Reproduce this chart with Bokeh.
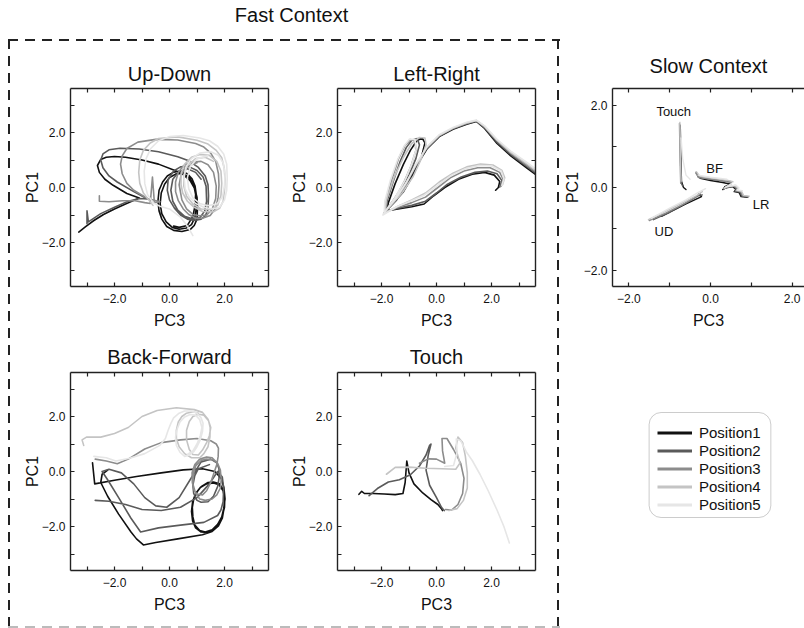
from bokeh.plotting import figure
from bokeh.layouts import row, column
from bokeh.models import Range1d, LinearAxis, FixedTicker, Legend, LegendItem, BoxAnnotation
from bokeh.core.properties import value
from bokeh.embed import file_html
from bokeh.resources import INLINE

FONT = "Liberation Sans"
POSITIONS = ["Position1", "Position2", "Position3", "Position4", "Position5"]
COLORS = ["#111111", "#5a5a5a", "#8c8c8c", "#c4c4c4", "#e6e6e6"]

# ---- Up-Down trajectories (PC3, PC1) ----
UD_P1 = [(-3.30, -1.62), (-3.05, -1.42), (-2.75, -1.2), (-2.4, -0.98), (-2.0, -0.78), (-1.6, -0.6),
         (-1.25, -0.45), (-1.1, -0.38), (-1.55, -0.22), (-2.05, 0.08), (-2.35, 0.3), (-2.55, 0.55),
         (-2.62, 0.8), (-2.5, 1.02), (-2.3, 1.1), (-2.0, 1.13), (-1.6, 1.1), (-1.0, 1.0), (-0.4, 0.85),
         (0.2, 0.62), (0.5, 0.47), (0.75, 0.25), (0.92, -0.05), (1.0, -0.35), (1.02, -0.7), (1.0, -1.15),
         (0.9, -1.38), (0.75, -1.53), (0.45, -1.6), (0.15, -1.56), (-0.1, -1.42), (-0.28, -1.15),
         (-0.38, -0.85), (-0.42, -0.5), (-0.38, -0.1), (-0.25, 0.2), (-0.08, 0.42), (0.15, 0.56), (0.4, 0.6),
         (0.65, 0.5), (0.82, 0.32), (0.93, 0.05), (0.98, -0.3), (0.98, -0.7), (0.92, -1.1), (0.8, -1.35),
         (0.62, -1.47), (0.35, -1.52), (0.1, -1.45), (-0.12, -1.25), (-0.28, -0.95), (-0.34, -0.6),
         (-0.3, -0.2), (-0.18, 0.12), (0.0, 0.36), (0.25, 0.5), (0.5, 0.5), (0.72, 0.36), (0.88, 0.1),
         (0.95, -0.25), (0.93, -0.65), (0.85, -1.05), (0.65, -1.38), (0.35, -1.45), (0.15, -1.4)]
UD_P2 = [(-3.0, -1.32), (-3.0, -0.85), (-2.95, -1.25), (-2.5, -0.95), (-2.0, -0.72), (-1.5, -0.5),
         (-1.1, -0.4), (-0.8, -0.42), (-1.3, -0.15), (-1.9, 0.2), (-2.2, 0.42), (-2.42, 0.72), (-2.5, 1.0),
         (-2.42, 1.22), (-2.2, 1.37), (-1.8, 1.43), (-1.1, 1.4), (-0.4, 1.3), (0.3, 1.12), (0.7, 0.97),
         (1.05, 0.73), (1.3, 0.42), (1.4, 0.1), (1.42, -0.3), (1.4, -0.8), (1.3, -1.03), (1.15, -1.15),
         (0.9, -1.2), (0.65, -1.15), (0.4, -1.0), (0.18, -0.75), (0.0, -0.45), (-0.08, -0.1), (-0.05, 0.28),
         (0.15, 0.6), (0.4, 0.75), (0.7, 0.76), (1.0, 0.62), (1.22, 0.38), (1.33, 0.05), (1.35, -0.5),
         (1.28, -0.85), (1.12, -1.08), (0.85, -1.15), (0.55, -1.05), (0.3, -0.82), (0.12, -0.5), (0.05, -0.1),
         (0.12, 0.3), (0.35, 0.58), (0.65, 0.68), (0.95, 0.55), (1.15, 0.3)]
UD_P3 = [(-2.55, -0.3), (-2.55, -0.5), (-2.2, -0.52), (-1.7, -0.48), (-1.25, -0.48), (-0.9, -0.55),
         (-0.7, -0.58), (-0.62, 0.38), (-0.55, -0.55), (-0.35, -0.52), (-0.8, -0.4), (-1.3, -0.1),
         (-1.55, 0.15), (-1.72, 0.5), (-1.78, 0.85), (-1.72, 1.15), (-1.55, 1.42), (-1.15, 1.65), (-0.5, 1.75),
         (0.3, 1.73), (0.95, 1.6), (1.25, 1.47), (1.5, 1.25), (1.68, 0.95), (1.78, 0.5), (1.8, 0.1),
         (1.77, -0.35), (1.68, -0.75), (1.48, -1.02), (1.2, -1.12), (0.95, -1.12), (0.7, -0.98), (0.5, -0.78),
         (0.32, -0.48), (0.22, -0.15), (0.22, 0.2), (0.32, 0.55), (0.5, 0.78), (0.75, 0.92), (1.15, 0.95),
         (1.4, 0.83), (1.6, 0.55), (1.7, 0.05), (1.68, -0.4), (1.55, -0.8), (1.35, -1.0), (1.1, -1.03),
         (0.85, -0.98), (0.62, -0.78), (0.45, -0.45), (0.35, 0.1), (0.42, 0.45), (0.6, 0.75), (1.0, 0.9)]
UD_P4 = [(-0.6, -0.65), (-0.95, -0.2), (-1.08, 0.15), (-1.12, 0.55), (-1.08, 1.0), (-0.95, 1.35),
         (-0.7, 1.62), (-0.4, 1.78), (0.3, 1.84), (1.0, 1.72), (1.4, 1.58), (1.7, 1.35), (1.9, 1.08),
         (1.99, 0.7), (2.02, 0.3), (2.0, -0.1), (1.95, -0.5), (1.82, -0.76), (1.6, -0.88), (1.2, -0.87),
         (0.9, -0.72), (0.65, -0.5), (0.48, -0.2), (0.42, 0.1), (0.42, 0.5), (0.55, 0.85), (0.8, 1.1),
         (1.1, 1.2), (1.45, 1.17), (1.72, 0.95), (1.87, 0.6), (1.9, 0.15), (1.87, -0.3), (1.75, -0.65),
         (1.5, -0.8), (1.15, -0.78), (0.85, -0.6), (0.62, -0.32), (0.52, 0.05), (0.52, 0.45), (0.65, 0.8),
         (0.95, 1.05), (1.3, 1.1), (1.6, 0.95)]
UD_P5 = [(0.85, -1.75), (0.65, -1.4), (0.4, -1.08), (0.0, -0.78), (-0.35, -0.68), (-0.6, -0.55),
         (-0.8, -0.25), (-0.9, 0.15), (-0.92, 0.6), (-0.85, 1.05), (-0.68, 1.42), (-0.4, 1.7), (0.0, 1.85),
         (0.5, 1.89), (1.1, 1.8), (1.45, 1.7), (1.75, 1.5), (1.97, 1.22), (2.08, 0.85), (2.1, 0.35),
         (2.08, -0.1), (2.0, -0.45), (1.82, -0.72), (1.55, -0.78), (1.25, -0.72), (0.95, -0.58), (0.72, -0.35),
         (0.57, -0.05), (0.53, 0.35), (0.6, 0.75), (0.8, 1.05), (1.1, 1.25), (1.5, 1.3), (1.78, 1.17),
         (1.95, 0.9), (2.02, 0.5), (2.0, 0.05), (1.92, -0.35), (1.72, -0.6), (1.4, -0.66), (1.1, -0.58),
         (0.85, -0.38), (0.7, -0.05), (0.65, 0.35), (0.75, 0.75), (1.0, 1.05), (1.4, 1.15)]

# ---- Left-Right trajectories ----
LR_P1 = [(3.9, 0.25), (3.3, 0.7), (2.7, 1.15), (2.2, 1.6), (1.75, 2.15), (1.45, 2.4), (1.1, 2.3), (0.6, 2.12),
         (0.1, 1.85), (-0.35, 1.4), (-0.75, 0.75), (-1.1, 0.1), (-1.45, -0.45), (-1.8, -0.82), (-1.75, -0.55),
         (-1.5, 0.15), (-1.2, 0.85), (-0.95, 1.35), (-0.72, 1.7), (-0.52, 1.8), (-0.42, 1.62), (-0.55, 1.1),
         (-0.85, 0.45), (-1.2, -0.15), (-1.6, -0.6), (-1.85, -0.85), (-1.4, -0.78), (-0.9, -0.7), (-0.45, -0.6),
         (-0.1, -0.3), (0.3, 0.0), (0.8, 0.3), (1.3, 0.48), (1.75, 0.55), (2.1, 0.45), (2.3, 0.22), (2.25, 0.0),
         (2.15, -0.1)]
LR_P2 = [(3.9, 0.3), (3.3, 0.75), (2.7, 1.2), (2.2, 1.65), (1.75, 2.17), (1.45, 2.42), (1.1, 2.32), (0.6, 2.14),
         (0.1, 1.87), (-0.35, 1.42), (-0.75, 0.78), (-1.1, 0.12), (-1.45, -0.42), (-1.82, -0.8), (-1.8, -0.5),
         (-1.58, 0.2), (-1.32, 0.95), (-1.1, 1.45), (-0.9, 1.72), (-0.7, 1.78), (-0.62, 1.55), (-0.75, 1.05),
         (-1.0, 0.45), (-1.32, -0.1), (-1.65, -0.58), (-1.88, -0.87), (-1.4, -0.75), (-0.9, -0.65), (-0.4, -0.5),
         (0.0, -0.2), (0.4, 0.12), (0.9, 0.38), (1.4, 0.55), (1.85, 0.6), (2.2, 0.5), (2.38, 0.25), (2.3, 0.02)]
LR_P3 = [(3.9, 0.35), (3.3, 0.8), (2.7, 1.25), (2.2, 1.7), (1.75, 2.2), (1.45, 2.43), (1.1, 2.34), (0.6, 2.15),
         (0.1, 1.88), (-0.35, 1.44), (-0.75, 0.8), (-1.1, 0.14), (-1.45, -0.4), (-1.85, -0.85), (-1.82, -0.45),
         (-1.62, 0.3), (-1.38, 1.05), (-1.15, 1.52), (-0.95, 1.74), (-0.78, 1.7), (-0.75, 1.35), (-0.92, 0.8),
         (-1.18, 0.2), (-1.5, -0.4), (-1.9, -0.92), (-1.4, -0.72), (-0.9, -0.55), (-0.4, -0.35), (0.05, 0.0),
         (0.5, 0.35), (1.0, 0.6), (1.5, 0.72), (1.95, 0.72), (2.3, 0.55), (2.42, 0.3), (2.35, 0.05)]
LR_P4 = [(3.9, 0.4), (3.3, 0.85), (2.7, 1.28), (2.2, 1.72), (1.75, 2.22), (1.45, 2.44), (1.1, 2.35), (0.6, 2.16),
         (0.1, 1.9), (-0.35, 1.46), (-0.75, 0.82), (-1.1, 0.16), (-1.45, -0.38), (-1.88, -0.88), (-1.82, -0.45),
         (-1.55, 0.35), (-1.2, 1.1), (-0.9, 1.6), (-0.62, 1.82), (-0.42, 1.8), (-0.38, 1.55), (-0.55, 1.05),
         (-0.85, 0.4), (-1.25, -0.2), (-1.7, -0.7), (-1.92, -0.95), (-1.4, -0.68), (-0.9, -0.45), (-0.4, -0.2),
         (0.1, 0.2), (0.6, 0.52), (1.1, 0.75), (1.6, 0.85), (2.05, 0.82), (2.38, 0.62), (2.48, 0.35), (2.4, 0.1)]
LR_P5 = [(3.9, 0.45), (3.3, 0.9), (2.7, 1.32), (2.2, 1.75), (1.75, 2.24), (1.45, 2.45), (1.1, 2.37), (0.6, 2.18),
         (0.1, 1.92), (-0.35, 1.48), (-0.75, 0.84), (-1.1, 0.18), (-1.45, -0.36), (-1.9, -0.9), (-1.88, -0.5),
         (-1.68, 0.25), (-1.42, 1.0), (-1.18, 1.5), (-0.98, 1.76), (-0.78, 1.74), (-0.74, 1.4), (-0.9, 0.85),
         (-1.15, 0.25), (-1.5, -0.35), (-1.85, -0.85), (-1.95, -1.0), (-1.45, -0.7), (-0.95, -0.5), (-0.45, -0.28),
         (0.05, 0.08), (0.55, 0.45), (1.05, 0.68), (1.55, 0.8), (2.0, 0.78), (2.35, 0.6), (2.45, 0.32), (2.38, 0.08)]

# ---- Back-Forward trajectories ----
BF_P1 = [(-2.8, 0.32), (-2.72, -0.45), (-2.0, -0.32), (-1.2, -0.18), (-0.3, -0.05), (0.5, 0.06), (1.2, 0.1),
         (1.65, 0.0), (1.88, -0.25), (1.98, -0.6), (2.02, -1.0), (1.97, -1.35), (1.9, -1.65), (1.75, -1.92),
         (1.55, -2.12), (1.3, -2.2), (1.1, -2.15), (0.92, -1.95), (0.85, -1.65), (0.83, -1.3), (0.88, -1.0),
         (1.0, -0.75), (1.15, -0.55), (1.4, -0.4), (1.6, -0.38), (1.82, -0.45), (1.95, -0.65), (2.01, -0.95),
         (2.0, -1.3), (1.92, -1.62), (1.8, -1.9), (1.62, -2.1), (1.4, -2.22), (1.15, -2.2), (0.95, -2.05),
         (0.84, -1.8), (0.8, -1.45), (0.84, -1.1), (0.95, -0.8), (1.12, -0.58), (1.35, -0.45), (1.6, -0.42),
         (1.8, -0.48), (1.95, -0.7), (2.0, -0.95), (1.98, -1.35), (1.92, -1.7), (1.78, -1.98), (1.55, -2.18),
         (1.2, -2.3), (0.3, -2.45), (-0.5, -2.58), (-0.95, -2.67), (-1.2, -2.45), (-1.4, -2.2), (-1.85, -1.55),
         (-2.25, -0.9), (-2.5, -0.4), (-2.45, -0.1), (-2.25, 0.05)]
BF_P2 = [(-2.7, -1.05), (-2.2, -1.08), (-1.6, -1.2), (-1.0, -1.38), (-0.3, -1.42), (0.4, -1.3), (1.0, -0.95),
         (1.45, -0.45), (1.75, 0.0), (1.92, -0.2), (1.97, -0.6), (1.95, -1.1), (1.87, -1.4), (1.75, -1.6),
         (1.25, -1.85), (0.4, -1.95), (-0.4, -2.05), (-1.05, -2.2), (-1.4, -1.7), (-1.85, -0.95), (-2.25, -0.3),
         (-2.45, 0.0), (-2.2, 0.08), (-1.75, -0.05), (-1.3, -0.45), (-0.9, -0.95), (-0.5, -1.25), (-0.1, -1.3),
         (0.35, -0.95), (0.75, -0.3), (1.15, 0.35), (1.5, 0.45), (1.72, 0.32), (1.8, 0.1), (1.8, -0.25),
         (1.75, -0.55), (1.6, -0.9), (1.4, -1.1), (1.15, -1.12), (1.0, -1.05), (0.88, -0.8), (0.85, -0.5),
         (0.92, -0.15), (1.05, 0.1), (1.45, 0.25)]
BF_P3 = [(-2.7, 0.45), (-2.3, 0.38), (-1.9, 0.28), (-1.5, 0.45), (-0.9, 0.82), (-0.3, 1.05), (0.4, 1.15),
         (1.0, 1.2), (1.5, 1.12), (1.7, 1.0), (1.78, 0.85), (1.77, 0.55), (1.72, 0.25), (1.5, -0.4),
         (1.35, -0.7), (1.2, -0.85), (1.0, -0.82), (0.9, -0.7), (0.83, -0.4), (0.82, -0.05), (0.92, 0.25),
         (1.1, 0.45), (1.35, 0.53), (1.55, 0.5), (1.75, 0.3), (1.85, 0.05), (1.88, -0.3), (1.85, -0.6),
         (1.72, -0.85), (1.55, -1.0), (1.3, -1.05), (1.1, -1.0), (0.95, -0.8), (0.85, -0.45), (0.87, -0.1),
         (0.95, 0.2), (1.15, 0.4), (1.35, 0.45), (1.6, 0.42), (1.75, 0.3)]
BF_P4 = [(-3.12, 0.95), (-3.18, 1.15), (-3.02, 1.25), (-2.5, 1.25), (-2.0, 1.38), (-1.5, 1.6), (-1.0, 2.0),
         (-0.45, 2.22), (0.25, 2.32), (0.9, 2.25), (1.2, 2.15), (1.4, 1.9), (1.5, 1.6), (1.45, 1.3), (1.35, 1.05),
         (1.2, 0.78), (1.05, 0.6), (0.85, 0.62), (0.72, 0.8), (0.62, 1.15), (0.62, 1.5), (0.72, 1.82),
         (0.85, 2.0), (1.05, 2.08), (1.25, 2.05), (1.42, 1.85), (1.48, 1.6), (1.47, 1.25), (1.4, 0.9),
         (1.25, 0.65), (1.1, 0.5), (0.8, 0.5), (0.55, 0.65), (0.35, 0.9), (0.25, 1.2), (0.25, 1.5), (0.32, 1.8),
         (0.45, 2.0), (0.62, 2.12), (0.85, 2.17), (1.05, 2.12)]
BF_P5 = [(-2.75, 0.55), (-2.3, 0.5), (-1.95, 0.38), (-1.45, 0.48), (-0.9, 0.65), (-0.35, 0.95), (-0.15, 1.2),
         (-0.05, 1.5), (0.05, 1.75), (0.15, 1.95), (0.35, 2.12), (0.55, 2.2), (0.8, 2.2), (1.0, 2.12),
         (1.15, 1.95), (1.22, 1.75), (1.2, 1.45), (1.12, 1.15), (1.0, 0.9), (0.88, 0.72), (0.72, 0.6),
         (0.55, 0.55), (0.38, 0.7), (0.25, 0.95), (0.22, 1.25), (0.28, 1.55), (0.38, 1.8), (0.55, 1.98),
         (0.75, 2.07), (0.95, 2.05), (1.1, 1.88), (1.18, 1.6), (1.12, 1.3), (1.0, 1.0), (0.85, 0.75), (0.65, 0.62)]

# ---- Touch trajectories ----
T_P1 = [(-2.82, -0.83), (-2.72, -0.72), (-2.62, -0.8), (-2.3, -0.8), (-1.9, -0.82), (-1.5, -0.84), (-1.22, -0.8),
        (-1.14, -0.4), (-1.08, 0.38), (-1.0, -0.05), (-0.82, -0.45), (-0.5, -0.78), (-0.2, -1.02), (0.05, -1.2),
        (0.18, -1.35), (0.22, -1.42)]
T_P2 = [(-2.45, -0.88), (-2.15, -0.62), (-1.75, -0.38), (-1.35, -0.3), (-0.95, -0.12), (-0.62, 0.2), (-0.38, 0.6),
        (-0.25, 0.95), (-0.2, 1.0), (-0.3, 0.6), (-0.38, 0.05), (-0.25, -0.5), (0.0, -0.95), (0.18, -1.3),
        (0.28, -1.42)]
T_P3 = [(-0.62, 0.3), (-0.3, 0.46), (0.0, 0.45), (0.3, 0.3), (0.22, 0.75), (0.2, 1.2), (0.38, 1.2), (0.62, 0.8),
        (0.88, 0.3), (1.0, -0.25), (0.95, -0.8), (0.78, -1.2), (0.55, -1.4), (0.32, -1.38)]
T_P4 = [(-1.82, -0.1), (-1.5, 0.15), (-1.0, 0.16), (-0.4, 0.12), (0.2, 0.1), (0.7, 0.08), (0.85, 0.3), (0.7, 0.85),
        (0.78, 1.25), (0.95, 1.05), (1.05, 0.55), (1.12, -0.05), (1.12, -0.6), (0.98, -1.05), (0.75, -1.35),
        (0.45, -1.42)]
T_P5 = [(0.3, 0.18), (0.62, 0.22), (0.75, 0.7), (0.72, 1.18), (0.88, 1.12), (1.08, 0.72), (1.3, 0.4),
        (1.58, -0.1), (1.88, -0.7), (2.2, -1.4), (2.45, -2.0), (2.65, -2.6)]

# ---- Slow context: one bundle per task, one path per position ----
SLOW_TOUCH = [
    [(-0.74, 1.5), (-0.73, 1.0), (-0.72, 0.5), (-0.71, 0.15), (-0.66, 0.0), (-0.6, -0.05)],
    [(-0.75, 1.52), (-0.74, 1.0), (-0.73, 0.5), (-0.72, 0.12), (-0.68, 0.03)],
    [(-0.76, 1.55), (-0.75, 1.0), (-0.74, 0.5), (-0.73, 0.1)],
    [(-0.75, 1.58), (-0.74, 1.1), (-0.73, 0.5), (-0.72, 0.15)],
    [(-0.72, 1.2), (-0.68, 0.7), (-0.6, 0.3), (-0.5, 0.2)],
]
SLOW_UD = [
    [(-1.2, -0.7), (-0.9, -0.55), (-0.6, -0.4), (-0.35, -0.28), (-0.22, -0.22), (-0.28, -0.15)],
    [(-1.4, -0.78), (-1.0, -0.6), (-0.6, -0.38), (-0.3, -0.2), (-0.2, -0.18)],
    [(-1.5, -0.8), (-1.1, -0.62), (-0.7, -0.42), (-0.4, -0.25), (-0.25, -0.15)],
    [(-1.52, -0.78), (-1.1, -0.58), (-0.7, -0.38), (-0.35, -0.2), (-0.2, -0.1)],
    [(-1.45, -0.75), (-1.0, -0.5), (-0.6, -0.3), (-0.3, -0.12), (-0.12, -0.03)],
]
SLOW_BF = [
    [(-0.3, 0.3), (-0.25, 0.22), (0.0, 0.17), (0.3, 0.12), (0.5, 0.08), (0.35, 0.02)],
    [(-0.35, 0.37), (-0.3, 0.25), (0.0, 0.2), (0.3, 0.16), (0.52, 0.14)],
    [(-0.36, 0.35), (-0.28, 0.24), (0.05, 0.2), (0.35, 0.15), (0.5, 0.12)],
    [(-0.34, 0.38), (-0.26, 0.27), (0.1, 0.22), (0.4, 0.18), (0.55, 0.14)],
    [(-0.3, 0.3), (0.0, 0.25), (0.4, 0.2)],
]
SLOW_LR = [
    [(0.3, -0.05), (0.45, 0.05), (0.32, -0.02), (0.55, 0.02), (0.62, -0.05), (0.58, -0.1), (0.7, -0.12), (0.75, -0.22), (0.9, -0.24)],
    [(0.32, -0.04), (0.47, 0.06), (0.34, -0.01), (0.57, 0.03), (0.64, -0.04), (0.6, -0.09), (0.72, -0.11), (0.77, -0.21), (0.92, -0.23)],
    [(0.33, -0.03), (0.48, 0.07), (0.35, 0.0), (0.58, 0.04), (0.66, -0.03), (0.62, -0.08), (0.74, -0.1), (0.79, -0.2), (0.93, -0.22)],
    [(0.34, -0.02), (0.5, 0.08), (0.37, 0.01), (0.6, 0.05), (0.68, -0.02), (0.64, -0.07), (0.76, -0.09), (0.81, -0.19), (0.95, -0.21)],
    [(0.36, 0.0), (0.52, 0.09), (0.4, 0.02), (0.62, 0.06), (0.7, -0.01), (0.66, -0.06), (0.78, -0.08)],
]
SLOW_LABELS = ["Touch", "BF", "LR", "UD"]
SLOW_LABEL_X = [-0.9, 0.1, 1.24, -1.14]
SLOW_LABEL_Y = [1.84, 0.46, -0.41, -1.07]

MAJOR_TICKS = [-2, 0, 2]
FAST_MINOR = [-3, -1, 1, 3]
SLOW_MINOR = [-1, 1]
FAST_ALL = [-3, -2, -1, 0, 1, 2, 3]
SLOW_ALL = [-2, -1, 0, 1, 2]
TICK_TEXT = {-2: "\u22122.0", 0: "0.0", 2: "2.0"}


def tick_style(ax):
    ax.axis_line_color = "#222222"
    ax.axis_line_width = 1.4
    ax.major_tick_line_color = "#222222"
    ax.minor_tick_line_color = "#222222"
    ax.major_tick_in = 4
    ax.major_tick_out = 0
    ax.minor_tick_in = 4
    ax.minor_tick_out = 0
    ax.major_tick_line_width = 1.2
    ax.minor_tick_line_width = 1.2


def add_axes(p, minor, all_ticks, mirror_sides, ylabel_standoff):
    for side in ("below", "left"):
        ax = LinearAxis(ticker=FixedTicker(ticks=MAJOR_TICKS, minor_ticks=minor))
        tick_style(ax)
        ax.major_label_overrides = TICK_TEXT
        ax.major_label_text_font = FONT
        ax.major_label_text_font_size = "12px"
        ax.major_label_text_color = "#111111"
        ax.axis_label_text_font = FONT
        ax.axis_label_text_font_size = "16px"
        ax.axis_label_text_font_style = "normal"
        ax.axis_label_text_color = "#111111"
        if side == "below":
            ax.axis_label = "PC3"
            ax.major_label_standoff = 7
            ax.axis_label_standoff = 6
        else:
            ax.axis_label = "PC1"
            ax.major_label_standoff = 5
            ax.axis_label_standoff = ylabel_standoff
        p.add_layout(ax, side)
    # mirrored frame edges: tick marks only, no labels
    for side in mirror_sides:
        ax = LinearAxis(ticker=FixedTicker(ticks=[], minor_ticks=all_ticks))
        tick_style(ax)
        ax.major_label_standoff = 0
        p.add_layout(ax, side)


def panel(title, xr, yr, size, borders, minor, all_ticks, mirror_sides, ylabel_standoff, title_standoff):
    left, right, top, bottom = borders
    p = figure(width=size[0], height=size[1], x_range=Range1d(*xr), y_range=Range1d(*yr),
               min_border_left=left, min_border_right=right, min_border_top=top, min_border_bottom=bottom,
               x_axis_location=None, y_axis_location=None, toolbar_location=None, output_backend="svg",
               title=title)
    p.grid.visible = False
    p.outline_line_color = None
    p.border_fill_color = None
    p.background_fill_color = None
    p.title.align = "center"
    p.title.text_font = FONT
    p.title.text_font_size = "20px"
    p.title.text_font_style = "normal"
    p.title.text_color = "#111111"
    p.title.standoff = title_standoff
    add_axes(p, minor, all_ticks, mirror_sides, ylabel_standoff)
    return p


def draw(p, paths, width=1.6):
    for pts, c in zip(paths, COLORS):
        xs = [q[0] for q in pts]
        ys = [q[1] for q in pts]
        p.line(xs, ys, color=c, line_width=width, line_join="round", line_cap="round")


FR = (-3.6, 3.6)
MIRROR = ["above", "right"]

ud = panel("Up-Down", FR, FR, (285, 297), (70, 17, 49, 50), FAST_MINOR, FAST_ALL, MIRROR, -2, 8)
lr = panel("Left-Right", FR, FR, (275, 297), (52, 25, 49, 50), FAST_MINOR, FAST_ALL, MIRROR, -2, 8)
bf = panel("Back-Forward", FR, FR, (285, 292), (70, 17, 36, 58), FAST_MINOR, FAST_ALL, MIRROR, -2, 9)
tc = panel("Touch", FR, FR, (275, 292), (52, 25, 36, 58), FAST_MINOR, FAST_ALL, MIRROR, -2, 9)

draw(ud, [UD_P1, UD_P2, UD_P3, UD_P4, UD_P5])
draw(lr, [LR_P1, LR_P2, LR_P3, LR_P4, LR_P5])
draw(bf, [BF_P1, BF_P2, BF_P3, BF_P4, BF_P5])
draw(tc, [T_P1, T_P2, T_P3, T_P4, T_P5])

# slow context panel: its frame runs on past the right edge of the page
slow = panel("Slow Context", (-2.4, 2.303), (-2.4, 2.4), (244, 336), (50, 0, 88, 50), SLOW_MINOR, SLOW_ALL,
             ["above"], 0, 23)
for bundle in (SLOW_TOUCH, SLOW_UD, SLOW_BF, SLOW_LR):
    draw(slow, bundle, width=1.4)
slow.text(x=SLOW_LABEL_X, y=SLOW_LABEL_Y, text=SLOW_LABELS, text_font=value(FONT),
          text_font_size="13px", text_align="center", text_baseline="middle", text_color="#111111")

# legend panel: same side borders as the panel above it; x range counts pixels from the column's left edge
lg = figure(width=244, height=292, x_range=Range1d(50, 244), y_range=Range1d(0, 292),
            min_border_left=50, min_border_right=0, min_border_top=0, min_border_bottom=0,
            x_axis_location=None, y_axis_location=None, toolbar_location=None, output_backend="svg")
lg.grid.visible = False
lg.outline_line_color = None
items = []
for name, c in zip(POSITIONS, COLORS):
    r = lg.line(x=[-50, -40], y=[-50, -50], color=c, line_width=3)
    items.append(LegendItem(label=name, renderers=[r]))
legend = Legend(items=items, location=(45, 115), glyph_width=35, glyph_height=17, label_height=17,
                spacing=1, label_standoff=7, padding=0, margin=0, border_line_color=None,
                background_fill_alpha=0, label_text_font=FONT, label_text_font_size="15px",
                label_text_color="#111111")
lg.add_layout(legend)
lg.add_layout(BoxAnnotation(left=87, right=210, bottom=111, top=216, fill_alpha=0,
                            line_color="#555555", line_width=1, border_radius=12))

# header with the group title
hd = figure(width=560, height=39, x_range=Range1d(0, 560), y_range=Range1d(0, 39),
            min_border=0, x_axis_location=None, y_axis_location=None, toolbar_location=None,
            output_backend="svg")
hd.grid.visible = False
hd.outline_line_color = None
hd.text(x=[291], y=[25], text=["Fast Context"], text_font=value(FONT), text_font_size="20px",
        text_align="center", text_baseline="middle", text_color="#111111")

dash_h = "repeating-linear-gradient(to right, #222 0px, #222 10px, transparent 10px, transparent 17px)"
dash_hb = "repeating-linear-gradient(to right, #bbb 0px, #bbb 10px, transparent 10px, transparent 17px)"
dash_v = "repeating-linear-gradient(to bottom, #222 0px, #222 10px, transparent 10px, transparent 17px)"
box_styles = {
    "background-image": f"{dash_h}, {dash_hb}, {dash_v}, {dash_v}",
    "background-size": "552px 2px, 552px 2px, 2px 589px, 2px 589px",
    "background-position": "8px 0px, 8px 587px, 8px 0px, 557px 0px",
    "background-repeat": "no-repeat",
}
box = column(row(ud, lr), row(bf, tc), styles=box_styles)
left_col = column(hd, box)
right_col = column(slow, lg)
page = row(left_col, right_col)

open("out.html", "w").write(file_html(page, INLINE))
